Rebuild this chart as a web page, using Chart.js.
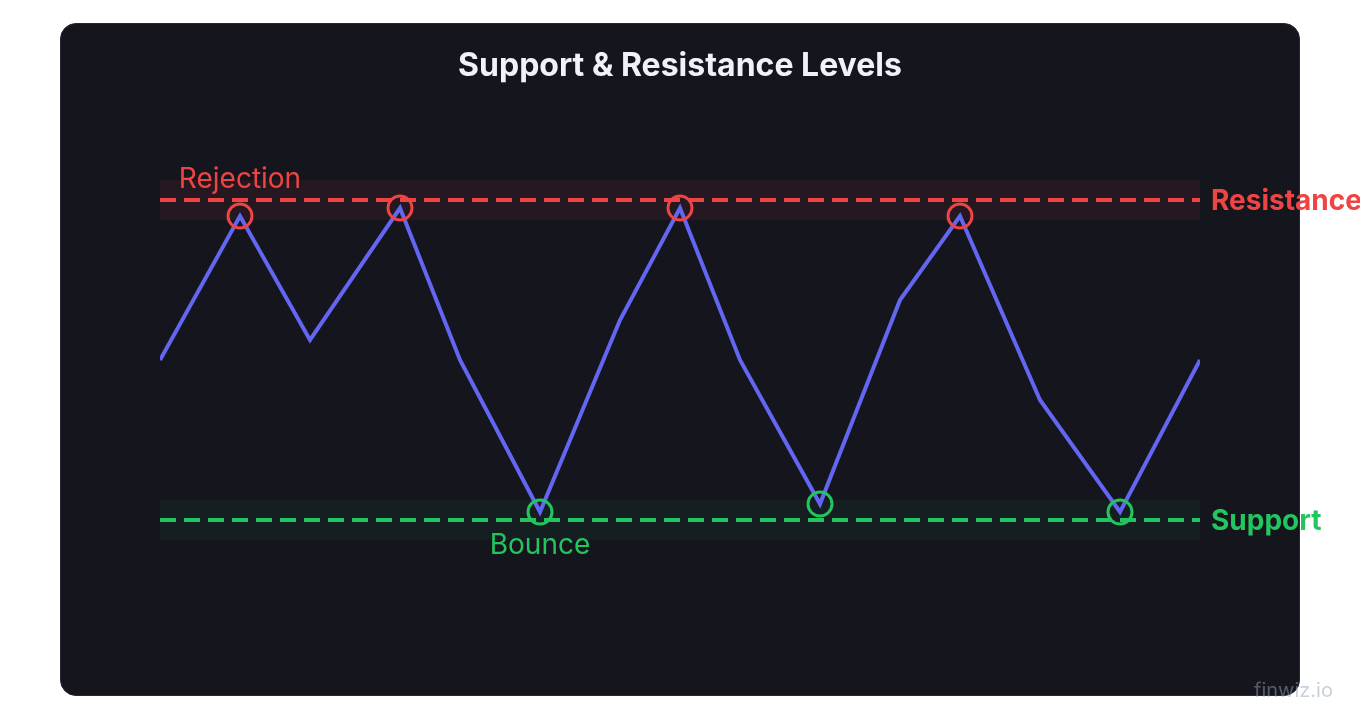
<!DOCTYPE html>
<html>
<head>
<meta charset="utf-8">
<title>Support & Resistance Levels</title>
<script src="https://cdn.jsdelivr.net/npm/chart.js@4"></script>
<style>
  body { margin: 0; background: #ffffff; font-family: Inter, sans-serif; }
  #panel {
    position: absolute; left: 60px; top: 23px; width: 1238px; height: 671px;
    background: #15151e; border: 1px solid #262636; border-radius: 16px;
  }
  #wrap { position: absolute; left: 0; top: 0; width: 1360px; height: 720px; }
  #mark {
    position: absolute; left: 1254px; top: 680px; font-size: 20px; line-height: 20px;
    color: rgba(148,163,184,0.5); font-family: Inter, sans-serif;
  }
</style>
</head>
<body>
<div id="panel"></div>
<div id="wrap"><canvas id="chart"></canvas></div>
<div id="mark">finwiz.io</div>
<script>
// price path (x in time steps, y in price)
var xs     = [0, 8, 15, 24, 30, 38, 46, 52, 58, 66, 74, 80, 88, 96, 104];
var prices = [80, 116, 85, 118, 80, 42, 90, 118, 80, 44, 95, 116, 70, 42, 80];
// r = rejection at resistance, g = bounce off support
var markers = ['', 'r', '', 'r', '', 'g', '', 'r', '', 'g', '', 'r', '', 'g', ''];

var resistance = 120;
var support = 40;
var zone = 5;

var red = '#ef4444';
var green = '#22c55e';
var blue = '#6366f1';

function flat(v) {
  return [{x: xs[0], y: v}, {x: xs[xs.length - 1], y: v}];
}

var labelPlugin = {
  id: 'levelLabels',
  afterDatasetsDraw: function(chart) {
    var ctx = chart.ctx;
    var x = chart.scales.x, y = chart.scales.y;
    var rY = y.getPixelForValue(resistance);
    var sY = y.getPixelForValue(support);
    ctx.save();
    ctx.textBaseline = 'alphabetic';

    ctx.font = 'bold 28px Inter';
    ctx.textAlign = 'left';
    ctx.fillStyle = red;
    ctx.fillText('Resistance', x.right + 11, rY + 10);
    ctx.fillStyle = green;
    ctx.fillText('Support', x.right + 11, sY + 10);

    ctx.font = '28px Inter';
    ctx.textAlign = 'center';
    ctx.fillStyle = red;
    ctx.fillText('Rejection', x.getPixelForValue(xs[markers.indexOf('r')]), rY - 12);
    ctx.fillStyle = green;
    ctx.fillText('Bounce', x.getPixelForValue(xs[markers.indexOf('g')]), sY + 34);
    ctx.restore();
  }
};

new Chart(document.getElementById('chart'), {
  type: 'line',
  data: {
    datasets: [
      {
        data: xs.map(function(v, i) { return {x: v, y: prices[i]}; }),
        borderColor: blue,
        borderWidth: 4,
        tension: 0,
        pointRadius: function(c) { return markers[c.dataIndex] ? 12 : 0; },
        pointHoverRadius: function(c) { return markers[c.dataIndex] ? 12 : 0; },
        pointBorderWidth: 3,
        pointBackgroundColor: 'rgba(0,0,0,0)',
        pointBorderColor: function(c) { return markers[c.dataIndex] == 'r' ? red : green; }
      },
      {
        data: flat(resistance),
        borderColor: red, borderWidth: 4, borderDash: [16, 8], pointRadius: 0
      },
      {
        data: flat(support),
        borderColor: green, borderWidth: 4, borderDash: [16, 8], pointRadius: 0
      },
      {
        data: flat(resistance + zone),
        borderWidth: 0, pointRadius: 0,
        fill: {value: resistance - zone},
        backgroundColor: 'rgba(239,68,68,0.08)'
      },
      {
        data: flat(support + zone),
        borderWidth: 0, pointRadius: 0,
        fill: {value: support - zone},
        backgroundColor: 'rgba(34,197,94,0.06)'
      }
    ]
  },
  options: {
    responsive: true,
    maintainAspectRatio: false,
    animation: false,
    layout: { padding: { top: 30, left: 160, right: 160, bottom: 60 } },
    scales: {
      x: { type: 'linear', min: 0, max: 104, display: false },
      y: { min: 5, max: 145, display: false }
    },
    plugins: {
      legend: { display: false },
      tooltip: { enabled: false },
      title: {
        display: true,
        text: 'Support & Resistance Levels',
        color: '#f1f2f7',
        font: { family: 'Inter', size: 32, weight: 'bold', lineHeight: 1.2 },
        padding: { top: 17.2, bottom: 14.4 }
      }
    }
  },
  plugins: [labelPlugin]
});
</script>
</body>
</html>
